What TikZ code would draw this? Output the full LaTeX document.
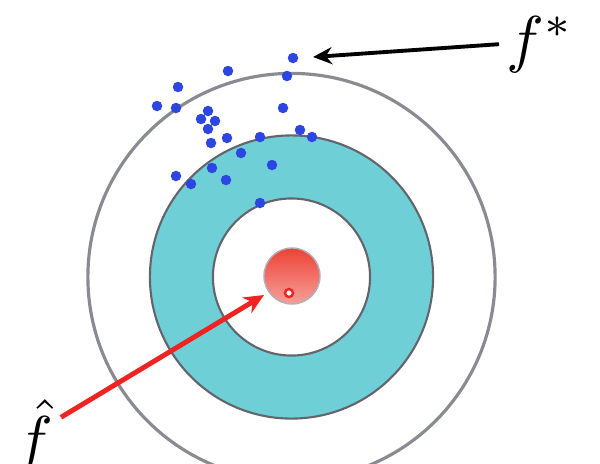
\documentclass[tikz,border=0pt]{standalone}
\usepackage{amsmath, amssymb}
\usepackage{tikz}
\usetikzlibrary{arrows.meta}

\definecolor{turquesa}{RGB}{110,208,214}
\definecolor{gris}{RGB}{125,125,135}
\definecolor{azul}{RGB}{45,70,225}
\definecolor{rojo}{RGB}{240,35,35}
\definecolor{rojobola}{RGB}{236,66,54}

\tikzset{
	punto/.style={circle, fill=azul, inner sep=0pt, minimum size=0.105cm},
	etiqueta/.style={inner sep=1pt, scale=1.8}
}

\begin{document}
\begin{tikzpicture}[x=0.01cm, y=-0.01cm]
		\useasboundingbox (0,0) rectangle (600,463);
		
		% Dibujar los anillos
		\draw[gris!90, line width=0.9pt] (291.5,277) circle (2.035cm);
		\draw[fill=turquesa, draw=gris!80!black, line width=0.6pt] (291.5,277) circle (1.415cm);
		\draw[fill=white, draw=gris!80!black, line width=0.6pt] (291.5,277) circle (0.785cm);
		
		% Dibujar el centro
		\node[circle, minimum size=0.56cm, inner sep=0pt, draw=gris!60, top color=rojobola, middle color=rojobola, bottom color=rojobola!50] (bola) at (292,276) {};
		\node[circle, draw=rojo, fill=white, line width=0.7pt, inner sep=0pt, minimum size=0.08cm] (centro) at (289,293) {};
		
		% Dibujar los puntos
		\foreach \x/\y [count=\i] in {293/58, 228/71, 287/76, 178/87, 157/106, 176/108, 283/108, 208/111, 201/119, 215/121, 208/129, 227/138, 211/143, 260/137, 300/130, 312/137, 241/153, 272/165, 212/168, 226/180, 176/176, 191/184, 260/203} {
			\node[punto] (p\i) at (\x,\y) {};
		}
		
		% Etiquetas y flechas
		\node[etiqueta, anchor=base west] (festrella) at (499,60) {$f^*$};
		\coordinate (punta) at (313,57);
		\draw[-{Stealth[length=0.19cm, width=0.17cm]}, line width=1.1pt] (festrella.west) -- (punta);
		
		\node[etiqueta, anchor=base west] (fgorro) at (8,460) {$\hat{f}$};
		\coordinate (diana) at (264,295);
		\draw[rojo, -{Stealth[length=0.2cm, width=0.18cm]}, line width=1.4pt] (fgorro.35) -- (diana);
		
\end{tikzpicture}
\end{document}
